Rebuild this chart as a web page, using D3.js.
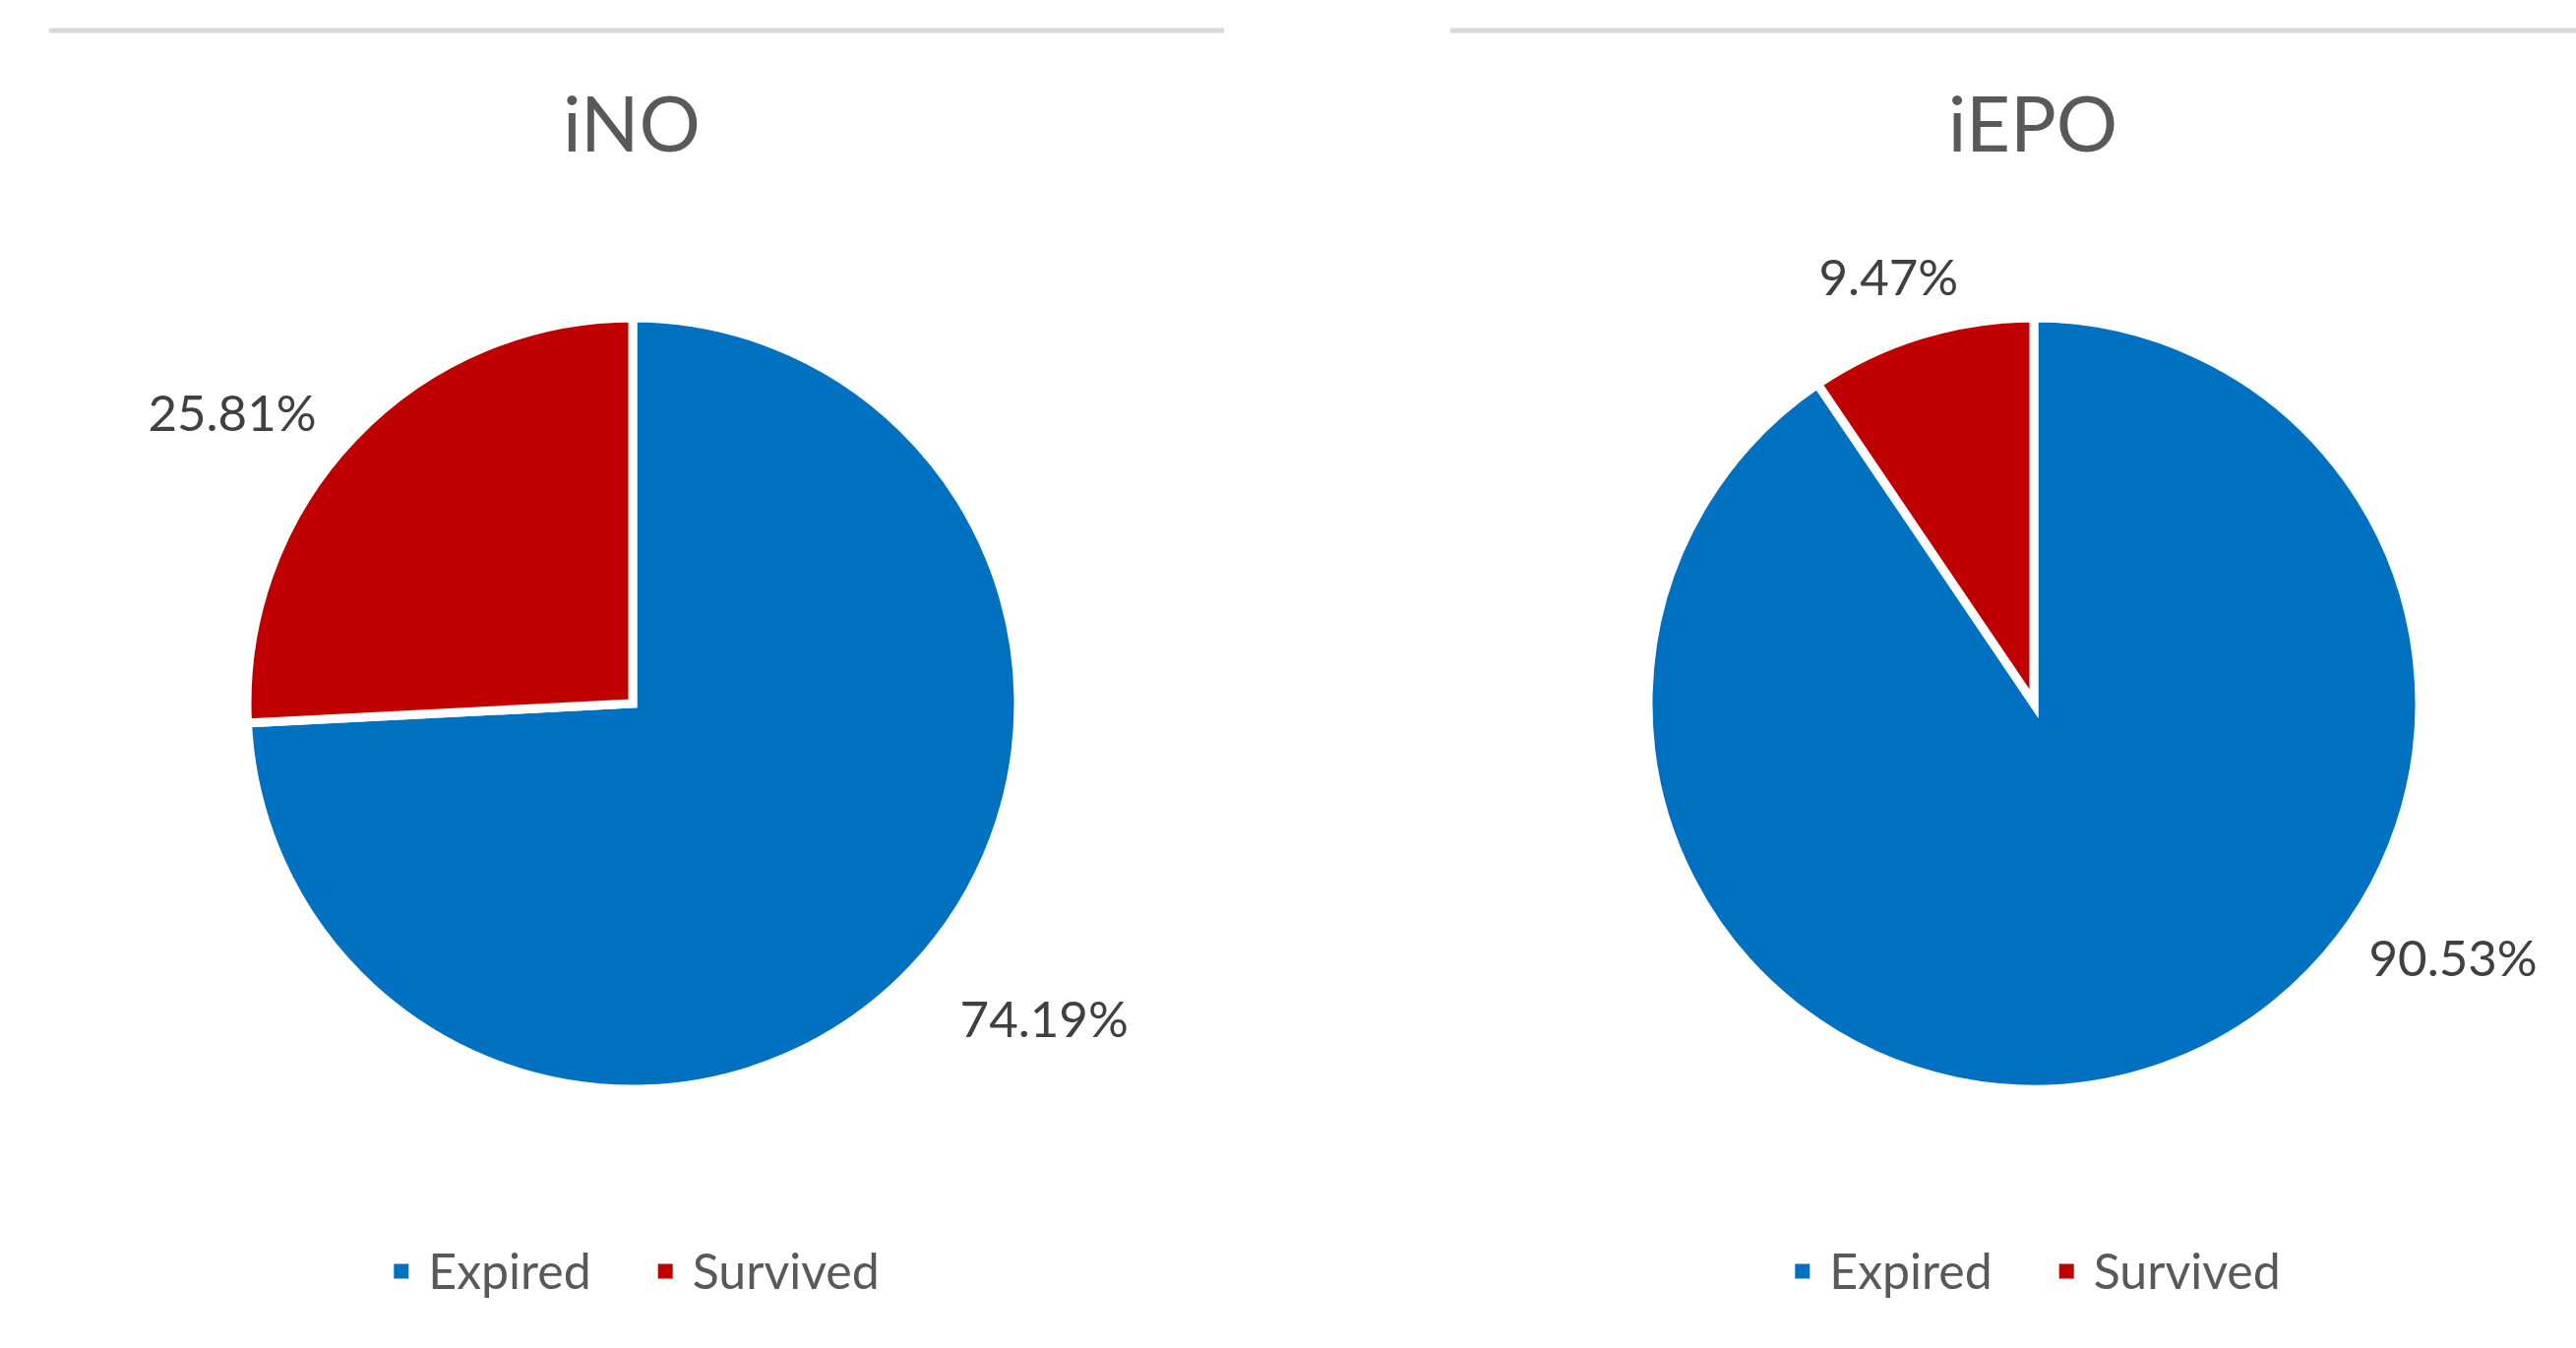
<!DOCTYPE html>
<html>
<head>
<meta charset="utf-8">
<script src="https://cdn.jsdelivr.net/npm/d3@7"></script>
<style>
    body { margin: 0; background: #fff; }
    svg text { font-family: Lato, 'Open Sans', sans-serif; }
</style>
</head>
<body>
<div id="charts"></div>
<script>
// data
const titles = ['iNO', 'iEPO'];
const categories = ['Expired', 'Survived'];
const iNO = [74.19, 25.81];
const iEPO = [90.53, 9.47];
const series = [iNO, iEPO];

const colours = ['#0070C0', '#C00000'];

const width = 2618;
const height = 1370;
const panelW = 1194;
const panelX = [50, 1474];
const pieY = 715;
const radius = 392;
// excel "best fit" label placement: [angle (deg clockwise from 12), gap from rim]
const labelPlace = [[[127.5, 56], [306, 31]], [[121.3, 24], [341.2, 26]]];

const svg = d3.select('#charts')
    .append('svg')
        .attr('width', width)
        .attr('height', height)
        .attr('viewBox', [0, 0, width, height]);

const colour = d3.scaleOrdinal()
    .domain(categories)
    .range(colours);

const pie = d3.pie()
    .sort(null)
    .value(d => d.value);

const arc = d3.arc()
    .innerRadius(0)
    .outerRadius(radius);

series.forEach((values, k) => {
    const g = svg.append('g')
        .attr('transform', `translate(${panelX[k]},0)`);
    const cx = panelW / 2;

    // rule across the top of the panel
    g.append('line')
        .attr('x1', 0)
        .attr('x2', panelW)
        .attr('y1', 31)
        .attr('y2', 31)
        .attr('stroke', '#d9d9d9')
        .attr('stroke-width', 5);

    g.append('text')
        .attr('x', cx - 5)
        .attr('y', 154)
        .attr('text-anchor', 'middle')
        .attr('fill', '#595959')
        .style('font-size', '78px')
        .text(titles[k]);

    const slices = pie(categories.map((c, i) => ({cat: c, value: values[i]})));

    const pg = g.append('g')
        .attr('transform', `translate(${cx - 4},${pieY})`);

    pg.selectAll('path')
        .data(slices)
        .join('path')
            .attr('fill', d => colour(d.data.cat))
            .attr('stroke', '#fff')
            .attr('stroke-width', 9)
            .attr('stroke-linejoin', 'miter')
            .attr('d', arc);

    // percentage labels outside the pie
    const total = d3.sum(values);
    const fs = 51;
    pg.selectAll('text.lab')
        .data(slices)
        .join('text')
            .attr('class', 'lab')
            .attr('fill', '#404040')
            .attr('text-anchor', 'middle')
            .style('font-size', fs + 'px')
            .text(d => (d.value / total * 100).toFixed(2) + '%')
            .each(function(d, i) {
                const w = this.getComputedTextLength();
                const h = fs * 0.72;
                const [deg, gap] = labelPlace[k][i];
                const a = deg * Math.PI / 180;
                const ux = Math.sin(a), uy = -Math.cos(a);
                const dist = radius + gap + Math.abs(ux) * w / 2 + Math.abs(uy) * h / 2;
                d3.select(this)
                    .attr('x', ux * dist)
                    .attr('y', uy * dist + h / 2);
            });

    // legend
    const lg = g.append('g');
    const lfs = 50;
    const sq = 15;
    let x = 0;
    categories.forEach((c, i) => {
        lg.append('rect')
            .attr('x', x)
            .attr('y', -sq / 2)
            .attr('width', sq)
            .attr('height', sq)
            .attr('fill', colour(c));
        const t = lg.append('text')
            .attr('x', x + sq + 20)
            .attr('y', lfs * 0.36)
            .attr('fill', '#595959')
            .style('font-size', lfs + 'px')
            .text(c);
        x += sq + 20 + t.node().getComputedTextLength() + 68;
    });
    const lw = x - 68;
    lg.attr('transform', `translate(${cx - lw / 2},1292)`);
});
</script>
</body>
</html>
